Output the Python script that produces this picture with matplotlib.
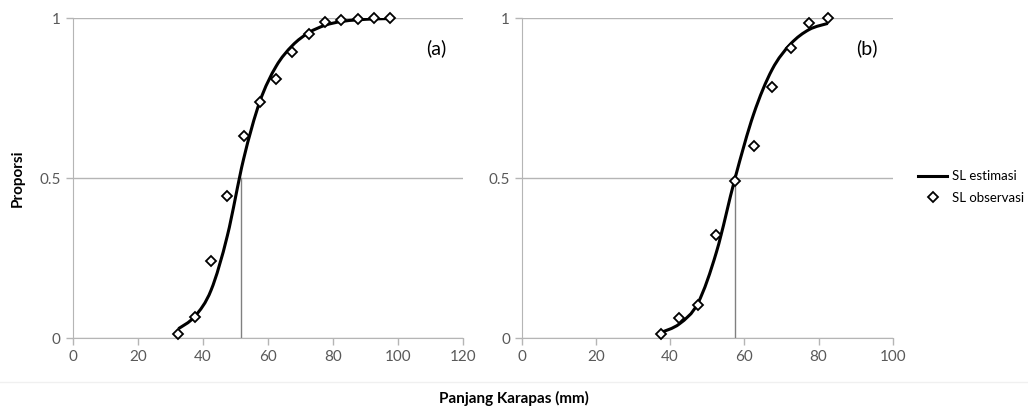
import numpy as np
import matplotlib
matplotlib.use("Agg")
import matplotlib.pyplot as plt
from matplotlib.path import Path
from matplotlib.patches import PathPatch
from matplotlib.lines import Line2D

plt.rcParams['font.family'] = ['Lato', 'DejaVu Sans']

# panel (a)
len_a = [32.5, 37.5, 42.5, 47.5, 52.5, 57.5, 62.5, 67.5, 72.5, 77.5, 82.5, 87.5, 92.5, 97.5]
obs_a = [0.012, 0.065, 0.24, 0.445, 0.632, 0.738, 0.81, 0.894, 0.95, 0.988, 0.995, 0.998, 1.0, 1.0]
est_a = [0.03, 0.068, 0.15, 0.32, 0.56, 0.74, 0.85, 0.915, 0.955, 0.978, 0.99, 0.995, 0.998, 0.999]
l50_a = 51.7

# panel (b)
len_b = [37.5, 42.5, 47.5, 52.5, 57.5, 62.5, 67.5, 72.5, 77.5, 82.5]
obs_b = [0.013, 0.064, 0.104, 0.323, 0.49, 0.60, 0.784, 0.908, 0.986, 1.0]
est_b = [0.018, 0.045, 0.11, 0.27, 0.5, 0.70, 0.84, 0.92, 0.965, 0.984]
l50_b = 57.5

grey = '#b5b5b5'
txt = '#595959'


def smooth_path(x, y):
    # excel style smoothed line: cubic bezier through every point
    p = np.column_stack([x, y])
    verts = [p[0]]
    codes = [Path.MOVETO]
    n = len(p)
    for i in range(n - 1):
        p0 = p[i - 1] if i > 0 else p[i]
        p3 = p[i + 2] if i + 2 < n else p[i + 1]
        c1 = p[i] + (p[i + 1] - p0) / 6
        c2 = p[i + 1] - (p3 - p[i]) / 6
        verts += [c1, c2, p[i + 1]]
        codes += [Path.CURVE4] * 3
    return Path(verts, codes)


def panel(ax, xs, obs, est, l50, xmax, label):
    ax.set_xlim(0, xmax)
    ax.set_ylim(0, 1)
    ax.set_xticks(np.arange(0, xmax + 1, 20))
    ax.set_yticks([0, 0.5, 1])
    ax.set_yticklabels(['0', '0.5', '1'])
    ax.grid(axis='y', color=grey, linewidth=1)
    ax.set_axisbelow(True)
    for s in ['top', 'right']:
        ax.spines[s].set_visible(False)
    for s in ['left', 'bottom']:
        ax.spines[s].set_color(grey)
    ax.tick_params(colors=grey, labelcolor=txt, labelsize=11, length=5, width=1)
    ax.plot([l50, l50], [0, 0.5], color='#808080', linewidth=1, zorder=2)
    ax.add_patch(PathPatch(smooth_path(xs, est), facecolor='none', edgecolor='black',
                           linewidth=2.2, zorder=3))
    ax.plot(xs, obs, linestyle='none', marker='D', markersize=5, markerfacecolor='white',
            markeredgecolor='black', markeredgewidth=1.3, zorder=4, clip_on=False)
    ax.text(0.93, 0.935, label, transform=ax.transAxes, fontsize=14, ha='center', va='top')


fig = plt.figure(figsize=(10.28, 4.12), dpi=100)
ax1 = fig.add_axes([0.0707, 0.1789, 0.38, 0.7767])
ax2 = fig.add_axes([0.5075, 0.1789, 0.3609, 0.7767])
panel(ax1, len_a, obs_a, est_a, l50_a, 120, '(a)')
panel(ax2, len_b, obs_b, est_b, l50_b, 100, '(b)')

fig.add_artist(Line2D([0, 1], [1 - 382 / 412] * 2, color='#f0f0f0', linewidth=1))
fig.text(0.5, 1 - 398 / 412, 'Panjang Karapas (mm)', ha='center', va='center',
         fontsize=11, fontweight='bold')
fig.text(18 / 1028, 1 - 178 / 412, 'Proporsi', ha='center', va='center', rotation=90,
         fontsize=11, fontweight='bold')

handles = [Line2D([], [], color='black', linewidth=2.2),
           Line2D([], [], linestyle='none', marker='D', markersize=5, markerfacecolor='white',
                  markeredgecolor='black', markeredgewidth=1.3)]
fig.legend(handles, ['SL estimasi', 'SL observasi'], loc='center left',
           bbox_to_anchor=(918 / 1028, 1 - 187 / 412), frameon=False, fontsize=9.5,
           borderpad=0, borderaxespad=0, handlelength=2.2, handletextpad=0.4,
           labelspacing=0.7)

fig.savefig('out.png', dpi=100)
